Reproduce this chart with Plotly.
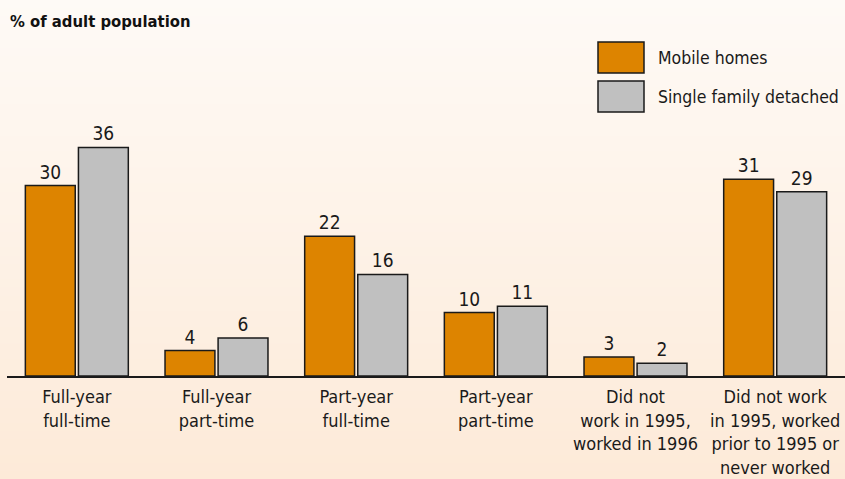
import plotly.graph_objects as go

categories = [
    "Full-year<br>full-time",
    "Full-year<br>part-time",
    "Part-year<br>full-time",
    "Part-year<br>part-time",
    "Did not<br>work in 1995,<br>worked in 1996",
    "Did not work<br>in 1995, worked<br>prior to 1995 or<br>never worked",
]
mobile_homes = [30, 4, 22, 10, 3, 31]
single_family = [36, 6, 16, 11, 2, 29]
series_names = ["Mobile homes", "Single family detached"]
series_colors = ["#dd8400", "#c0c0c0"]
y_title = "% of adult population"

FONT = "DejaVu Sans Condensed, Liberation Sans Narrow, Arial Narrow, sans-serif"
W, H = 845, 479
ML, MR, MT, MB = 7, 0, 122, 103
PW, PH = W - ML - MR, H - MT - MB

fig = go.Figure()
for name, vals, col in zip(series_names, [mobile_homes, single_family], series_colors):
    fig.add_trace(go.Bar(
        x=categories, y=vals, name=name,
        marker=dict(color=col, line=dict(color="#1a1a1a", width=1.5)),
        text=[str(v) for v in vals], textposition="outside",
        textfont=dict(family=FONT, size=19, color="#1a1a1a"),
        cliponaxis=False, showlegend=False,
    ))

def px_to_paper_x(px):
    return (px - ML) / PW

def px_to_paper_y(py):
    return (H - MB - py) / PH

# background gradient bands
shapes = []
n = 60
top = (254, 250, 246)
bot = (253, 234, 216)
for i in range(n):
    t = i / (n - 1)
    c = tuple(round(top[k] + (bot[k] - top[k]) * t) for k in range(3))
    y0 = H * i / n
    y1 = H * (i + 1) / n + 1
    shapes.append(dict(type="rect", xref="paper", yref="paper", layer="below",
                       x0=px_to_paper_x(0), x1=px_to_paper_x(W),
                       y0=px_to_paper_y(y1), y1=px_to_paper_y(y0),
                       fillcolor="rgb(%d,%d,%d)" % c, line=dict(width=0)))

# legend boxes
annotations = []
for i, (name, col) in enumerate(zip(series_names, series_colors)):
    top_px = 42 + i * 39
    shapes.append(dict(type="rect", xref="paper", yref="paper",
                       x0=px_to_paper_x(598), x1=px_to_paper_x(644),
                       y0=px_to_paper_y(top_px + 31), y1=px_to_paper_y(top_px),
                       fillcolor=col, line=dict(color="#1a1a1a", width=1.5)))
    annotations.append(dict(xref="paper", yref="paper", x=px_to_paper_x(656),
                            y=px_to_paper_y(top_px + 16), text=name, showarrow=False,
                            xanchor="left", yanchor="middle",
                            font=dict(family=FONT, size=17.5, color="#1a1a1a")))

annotations.append(dict(xref="paper", yref="paper", x=px_to_paper_x(8),
                        y=px_to_paper_y(21), text="<b>" + y_title + "</b>", showarrow=False,
                        xanchor="left", yanchor="middle",
                        font=dict(family=FONT, size=16.5, color="#111111")))

fig.update_layout(
    width=W, height=H,
    margin=dict(l=ML, r=MR, t=MT, b=MB, pad=0),
    paper_bgcolor="#fdf3ea", plot_bgcolor="rgba(0,0,0,0)",
    barmode="group", bargap=0.24, bargroupgap=0.06,
    shapes=shapes, annotations=annotations,
    showlegend=False,
    xaxis=dict(showline=True, linecolor="#1a1a1a", linewidth=1.5, ticks="",
               ticklabelstandoff=4,
               tickfont=dict(family=FONT, size=18, color="#1a1a1a"),
               showgrid=False, zeroline=False, fixedrange=True),
    yaxis=dict(range=[0, 40], visible=False, showgrid=False, zeroline=False, fixedrange=True),
)

fig.write_html("out.html", config={"displayModeBar": False},
               post_script="document.body.style.margin='0';document.body.style.overflow='hidden';")
